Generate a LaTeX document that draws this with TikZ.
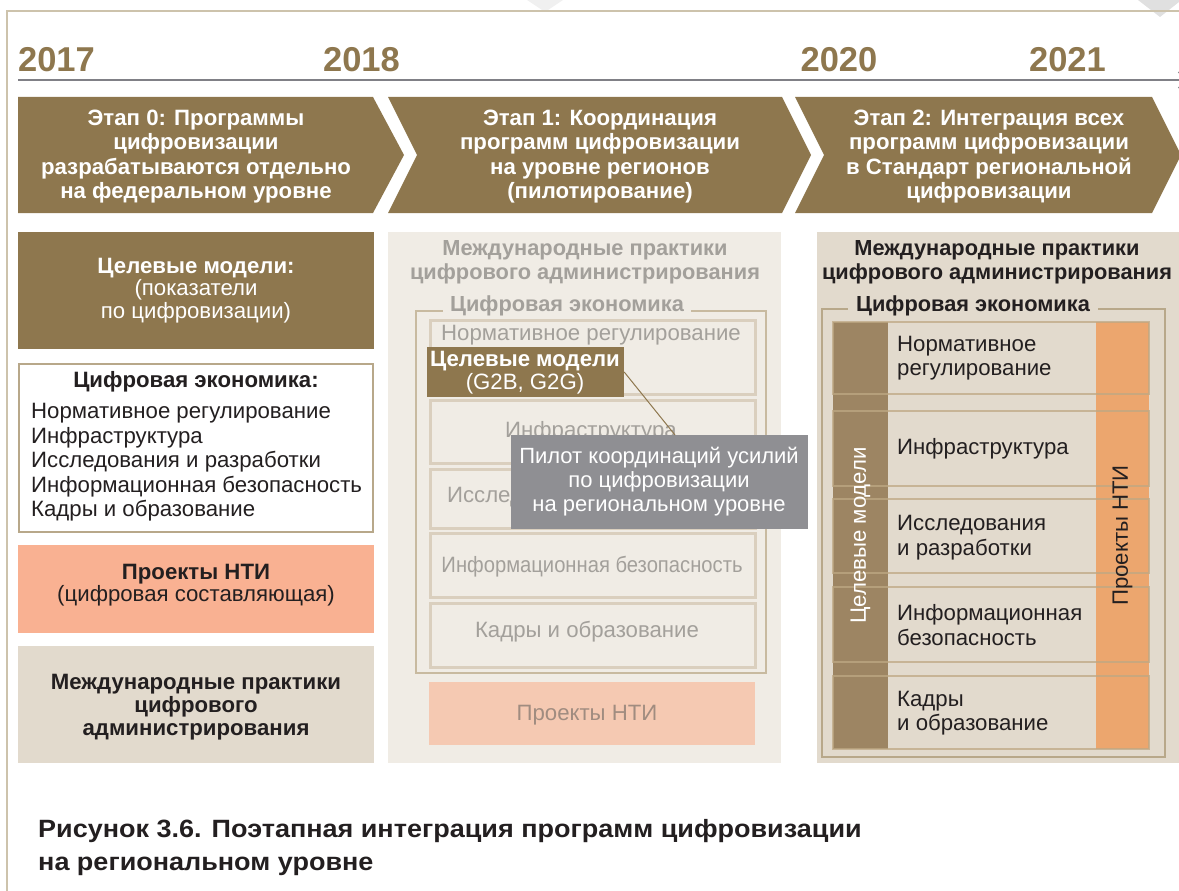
\documentclass[tikz,border=0pt]{standalone}
\usepackage{fontspec}
\setmainfont{Liberation Sans}
\usepackage{tikz}
\usetikzlibrary{arrows.meta}

\definecolor{stagebrown}{RGB}{142,119,78}
\definecolor{salmonbg}{RGB}{249,177,146}
\definecolor{beigebg}{RGB}{226,218,205}
\definecolor{palebg}{RGB}{240,236,229}
\definecolor{paleline}{RGB}{218,207,190}
\definecolor{palegroup}{RGB}{200,186,160}
\definecolor{paletext}{RGB}{163,160,155}
\definecolor{palesalmon}{RGB}{245,201,178}
\definecolor{palesalmontext}{RGB}{160,140,128}
\definecolor{calloutgray}{RGB}{143,143,147}
\definecolor{colbrown}{RGB}{157,133,99}
\definecolor{colorange}{RGB}{236,166,110}
\definecolor{rowline}{RGB}{190,168,132}
\definecolor{framecol}{RGB}{205,195,172}
\definecolor{boxline}{RGB}{184,168,138}
\definecolor{axisgray}{RGB}{128,128,134}
\definecolor{inktext}{RGB}{35,31,32}

\tikzset{
  bodytxt/.style={font=\fontsize{22.2}{24.5}\selectfont, inner sep=0pt, align=center, text=inktext},
  boldtxt/.style={bodytxt, font=\fontsize{22.2}{24.5}\selectfont\bfseries},
  titletxt/.style={bodytxt, font=\fontsize{21.8}{24}\selectfont\bfseries},
  graytxt/.style={bodytxt, text=paletext},
  yeartxt/.style={font=\fontsize{34.5}{40}\selectfont\bfseries, text=stagebrown, inner sep=0pt},
  stagetxt/.style={boldtxt, text=white},
  plainbox/.style={shape=rectangle, inner sep=0pt},
  palebox/.style={plainbox, draw=paleline, line width=3, minimum width=325},
  rowbox/.style={draw=rowline, draw opacity=0.75, line width=2.5},
  axisline/.style={axisgray, line width=2.5, -{Straight Barb[length=7pt, width=16pt, line width=1pt]}}
}

\begin{document}
\begin{tikzpicture}[x=1pt,y=-1pt]
    % Frame and time axis:
    \useasboundingbox (0,0) rectangle (1179,891);
    \clip (0,0) rectangle (1179,891);
    \fill[black!6] (527,0) -- (545,12) -- (563,0) -- cycle;
    \fill[black!12] (1138,0) -- (1160,17) -- (1179,2) -- (1179,0) -- cycle;
    \draw[framecol, line width=1.5] (7,891) -- (7,11) -- (1179,11);
    \node[yeartxt] (Y17) at (56.5,60) {2017};
    \node[yeartxt] (Y18) at (361.5,60) {2018};
    \node[yeartxt] (Y20) at (839,60) {2020};
    \node[yeartxt] (Y21) at (1067.5,60) {2021};
    \coordinate (T0) at (18,80);
    \coordinate (T1) at (1186,80);
    \draw[axisline] (T0) -- (T1);

    % Stages:
    \fill[stagebrown] (18,97) -- (373,97) -- (404,155) -- (373,213) -- (18,213) -- cycle;
    \fill[stagebrown] (388,97) -- (782,97) -- (811,155) -- (782,213) -- (388,213) -- (417,155) -- cycle;
    \fill[stagebrown] (795,97) -- (1152,97) -- (1181,155) -- (1152,213) -- (795,213) -- (824,155) -- cycle;
    \node[stagetxt] (S0) at (196,156.5) {Этап 0: Программы\\цифровизации\\разрабатываются отдельно\\на федеральном уровне};
    \node[stagetxt] (S1) at (600,156.5) {Этап 1: Координация\\программ цифровизации\\на уровне регионов\\(пилотирование)};
    \node[stagetxt] (S2) at (989,156.5) {Этап 2: Интеграция всех\\программ цифровизации\\в Стандарт региональной\\цифровизации};

    % Left column (2017):
    \node[plainbox, fill=stagebrown, minimum width=356, minimum height=117] (L1) at (196,290.5) {};
    \node[bodytxt, text=white, font=\fontsize{22.2}{22.5}\selectfont] (L1t) at (196,290.5) {{\bfseries Целевые модели:}\\(показатели\\по цифровизации)};
    \node[plainbox, draw=boxline, line width=2, fill=white, minimum width=354, minimum height=168] (L2) at (196,448) {};
    \node[boldtxt] (L2t) at (196,382) {Цифровая экономика:};
    \node[bodytxt, align=left, anchor=west] (L2l) at (31,462.5) {Нормативное регулирование\\Инфраструктура\\Исследования и разработки\\Информационная безопасность\\Кадры и образование};
    \node[plainbox, fill=salmonbg, minimum width=356, minimum height=88] (L3) at (196,589) {};
    \node[bodytxt, font=\fontsize{22.2}{22.5}\selectfont] (L3t) at (196,585) {{\bfseries Проекты НТИ}\\(цифровая составляющая)};
    \node[plainbox, fill=beigebg, minimum width=356, minimum height=117] (L4) at (196,704.5) {};
    \node[boldtxt, font=\fontsize{22.2}{23}\selectfont\bfseries] (L4t) at (196,707) {Международные практики\\цифрового\\администрирования};

    % Middle column (pilot):
    \node[plainbox, fill=palebg, minimum width=393, minimum height=531] (M0) at (584.5,497.5) {};
    \node[titletxt, text=paletext] (M0t) at (585,262.5) {Международные практики\\цифрового администрирования};
    \draw[palegroup, line width=1.5] (416,311) rectangle (766,673);
    \node[titletxt, text=paletext, fill=palebg, inner xsep=7, inner ysep=2] (M1) at (567,305.5) {Цифровая экономика};
    \node[palebox, minimum height=74] (M2) at (592.5,357.5) {};
    \node[graytxt] (M2t) at (591,335) {Нормативное регулирование};
    \node[palebox, minimum height=63] (M3) at (592.5,432) {};
    \node[graytxt] (M3t) at (591,432) {Инфраструктура};
    \node[palebox, minimum height=59] (M4) at (592.5,498.5) {};
    \node[graytxt] (M4t) at (592,497) {Исследования и разработки};
    \node[palebox, minimum height=64] (M5) at (592.5,565.5) {};
    \node[graytxt, font=\fontsize{22.2}{24.5}\selectfont\addfontfeatures{FakeStretch=0.91}] (M5t) at (592,567) {Информационная безопасность};
    \node[palebox, minimum height=64] (M6) at (592.5,635) {};
    \node[graytxt] (M6t) at (587,632) {Кадры и образование};
    \node[plainbox, fill=palesalmon, minimum width=326, minimum height=63] (M7) at (592,713.5) {};
    \node[graytxt, text=palesalmontext] (M7t) at (587,715) {Проекты НТИ};
    \node[plainbox, fill=stagebrown, minimum width=197, minimum height=50] (ML) at (525.5,372) {};
    \node[bodytxt, text=white, font=\fontsize{22.2}{23}\selectfont] (MLt) at (525,373) {{\bfseries Целевые модели}\\(G2B, G2G)};
    \node[plainbox, fill=calloutgray, minimum width=297, minimum height=94] (MC) at (659.5,482) {};
    \node[bodytxt, text=white, font=\fontsize{22}{24}\selectfont] (MCt) at (659,482) {Пилот координаций усилий\\по цифровизации\\на региональном уровне};
    \coordinate (MCtip) at (675,435);
    \draw[stagebrown, line width=1] (ML.east) -- (MCtip);

    % Right column (standard):
    \node[plainbox, fill=beigebg, minimum width=362, minimum height=531] (R0) at (998,497.5) {};
    \node[titletxt] (R0t) at (997,262.5) {Международные практики\\цифрового администрирования};
    \draw[boxline, line width=2] (822,309) rectangle (1165,757);
    \node[titletxt, fill=beigebg, inner xsep=8, inner ysep=2] (R1) at (973,305.5) {Цифровая экономика};
    \fill[colbrown] (833,322) rectangle (888,749);
    \fill[colorange] (1096,322) rectangle (1149,749);
    \foreach \a/\b in {322/394, 411/486, 499/573, 587/662, 676/749}
        \draw[rowbox] (833,\a) rectangle (1149,\b);
    \node[bodytxt, align=left, anchor=west] (R2) at (897,358) {Нормативное\\регулирование};
    \node[bodytxt, align=left, anchor=west] (R3) at (897,449) {Инфраструктура};
    \node[bodytxt, align=left, anchor=west] (R4) at (897,537.5) {Исследования\\и разработки};
    \node[bodytxt, align=left, anchor=west] (R5) at (897,625) {Информационная\\безопасность};
    \node[bodytxt, align=left, anchor=west] (R6) at (897,713) {Кадры\\и образование};
    \node[bodytxt, text=white, rotate=90] (RC1) at (860.5,535.5) {Целевые модели};
    \node[bodytxt, rotate=90] (RC2) at (1122.5,535.5) {Проекты НТИ};

    % Caption:
    \node[boldtxt, align=left, anchor=west, font=\fontsize{25}{33}\selectfont\addfontfeatures{FakeStretch=1.08}\bfseries] (CAP) at (38,848) {Рисунок 3.6. Поэтапная интеграция программ цифровизации\\на региональном уровне};
\end{tikzpicture}
\end{document}
